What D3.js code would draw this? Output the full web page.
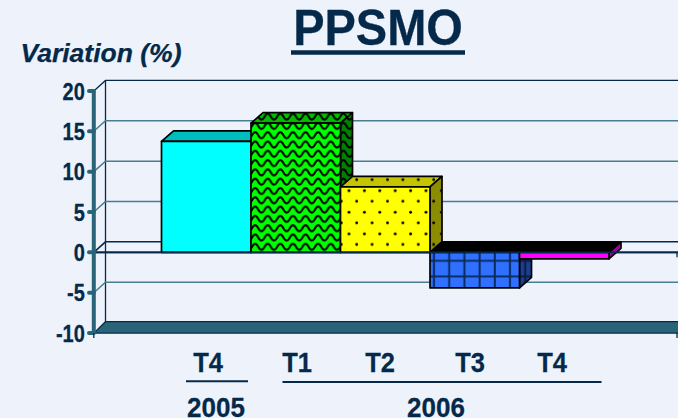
<!DOCTYPE html>
<html><head><meta charset="utf-8">
<script src="https://cdn.jsdelivr.net/npm/d3@7"></script>
<style>html,body{margin:0;padding:0;background:#eef3fb}svg{display:block}text{font-family:"Liberation Sans",Arial,sans-serif;font-weight:bold;fill:#04294a;stroke:#04294a;stroke-width:0.25}</style>
</head><body><svg id="c" width="678" height="418"></svg>
<script>
const categories = ["T4 2005","T1 2006","T2 2006","T3 2006","T4 2006"];
const values = [13.75, 16, 8.1, -4.4, -0.8];
const yTicks = [-10,-5,0,5,10,15,20];
const quarterLabels = ["T4","T1","T2","T3","T4"];
const quarterX = [208,297,380,470,552];
const yearLabels = ["2005","2006"];
const yearX = [216,436];
const frontColors = ["#00ffff","#00ff00","#ffff00","#3070ff","#ff00ff"];
const topColors = ["#00bdbd","#00bd00","#c4c400","#000000","#000000"];
const sideColors = ["#00a0a0","#008000","#8c8c00","#1a3f90","#a000a0"];

const dx = 12, dy = 10.5;
const ink = "#04294a", teal = "#2a6478", grid = "#4a7c92";
const svg = d3.select("#c");
const y = d3.scaleLinear().domain([-10,20]).range([333.1,90.9]);
const x = d3.scaleBand().domain(categories).range([161.5,609]);
const ax = 93.8, wx = 105.5, right = 678;

function label(t,px,py,size,sy,anchor,italic){
  const e = svg.append("text").attr("transform",`translate(${px},${py}) scale(1,${sy})`)
    .attr("text-anchor",anchor).attr("font-size",size).text(t);
  if(italic) e.attr("font-style","italic");
  return e;
}

const defs = svg.append("defs");
function pat(id,w,h,bg,draw){
  const p = defs.append("pattern").attr("id",id).attr("patternUnits","userSpaceOnUse").attr("width",w).attr("height",h);
  p.append("rect").attr("width",w).attr("height",h).attr("fill",bg);
  draw(p);
}
[["w0",frontColors[1]],["w1",topColors[1]],["w2",sideColors[1]]].forEach(([id,c])=>
  pat(id,12.6,9.3,c,p=>p.append("path").attr("d","M-12.6 5 Q-9.45 -1 -6.3 5 T0 5 Q3.15 -1 6.3 5 T12.6 5 Q15.75 -1 18.9 5 T25.2 5").attr("fill","none").attr("stroke","#000").attr("stroke-width",2)));
[["d0",frontColors[2]],["d1",topColors[2]],["d2",sideColors[2]]].forEach(([id,c])=>
  pat(id,15.4,21.6,c,p=>{
    p.append("circle").attr("cx",10.2).attr("cy",17.9).attr("r",1.4).attr("fill","#000");
    p.append("circle").attr("cx",2.5).attr("cy",6.9).attr("r",1.4).attr("fill","#000");
  }));
[["g0",frontColors[3]],["g2",sideColors[3]]].forEach(([id,c])=>
  pat(id,15.2,15.6,c,p=>{
    p.append("path").attr("d","M8.4 0V15.6 M0 11.2H15.2").attr("stroke",id=="g0"?"#0b2a60":"#0a1c40").attr("stroke-width",2);
  }));

// back wall and floor
const wallTop = y(20)-dy, floorBack = y(-10)-dy-0.9;
svg.append("path").attr("d",`M${ax} ${y(20)}L${wx} ${wallTop}H${right}`).attr("fill","none").attr("stroke",ink).attr("stroke-width",1.3);
svg.append("line").attr("x1",wx).attr("x2",wx).attr("y1",wallTop).attr("y2",floorBack).attr("stroke",ink).attr("stroke-width",1.3);
svg.append("path").attr("d",`M${ax} ${y(-10)}L${wx} ${floorBack}H${right}V${y(-10)}Z`).attr("fill",teal);
svg.append("path").attr("d",`M${ax} ${y(-10)}L${wx} ${floorBack}H${right}M${ax} ${y(-10)}H${right}`).attr("fill","none").attr("stroke",ink).attr("stroke-width",1.3);

// gridlines
yTicks.filter(t=>t>-10&&t<20).forEach(t=>{
  svg.append("path").attr("d",`M${ax} ${y(t)}L${wx} ${y(t)-dy}H${right}`).attr("fill","none")
    .attr("stroke",t===0?ink:grid).attr("stroke-width",1.5);
});
svg.append("line").attr("x1",ax).attr("x2",right).attr("y1",y(0)).attr("y2",y(0)).attr("stroke",ink).attr("stroke-width",1.6);

// bars
const fills = [
  [frontColors[0],topColors[0],sideColors[0]],
  ["url(#w0)","url(#w1)","url(#w2)"],
  ["url(#d0)","url(#d1)","url(#d2)"],
  ["url(#g0)",topColors[3],"url(#g2)"],
  [frontColors[4],topColors[4],sideColors[4]]
];
categories.forEach((c,i)=>{
  const v = values[i], x0 = x(c), x1 = x0+x.bandwidth();
  const yt = y(Math.max(v,0)), yb = y(Math.min(v,0));
  const f = fills[i];
  const g = svg.append("g").attr("stroke","#000").attr("stroke-width",1.7).attr("stroke-linejoin","round");
  g.append("path").attr("d",`M${x0} ${yt}L${x0+dx} ${yt-dy}H${x1+dx}L${x1} ${yt}Z`).attr("fill",f[1]);
  g.append("path").attr("d",`M${x1} ${yt}L${x1+dx} ${yt-dy}V${yb-dy}L${x1} ${yb}Z`).attr("fill",f[2]);
  g.append("rect").attr("x",x0).attr("y",yt).attr("width",x1-x0).attr("height",yb-yt).attr("fill",f[0]);
});
svg.append("line").attr("x1",ax).attr("x2",right).attr("y1",y(0)).attr("y2",y(0)).attr("stroke",ink).attr("stroke-width",1.6);

// axis
svg.append("line").attr("x1",ax).attr("x2",ax).attr("y1",y(20)).attr("y2",y(-10)).attr("stroke",teal).attr("stroke-width",4);
yTicks.forEach(t=>{
  svg.append("line").attr("x1",89).attr("x2",ax).attr("y1",y(t)).attr("y2",y(t)).attr("stroke",teal).attr("stroke-width",4).attr("stroke-linecap","round");
  label(t,84.8,y(t)+8.6,20,1.2,"end");
});
[y(-10),y(0)].forEach(v=>{
  svg.append("line").attr("x1",677).attr("x2",677).attr("y1",v).attr("y2",v+5).attr("stroke",ink).attr("stroke-width",1.3);
});
svg.append("line").attr("x1",ax).attr("x2",ax).attr("y1",y(-10)).attr("y2",y(-10)+5).attr("stroke",ink).attr("stroke-width",1.3);

// labels
quarterLabels.forEach((t,i)=>label(t,quarterX[i],372,25.5,1.08,"middle"));
yearLabels.forEach((t,i)=>label(t,yearX[i],416.8,26,1.05,"middle"));
svg.append("line").attr("x1",186).attr("x2",248).attr("y1",381.3).attr("y2",381.3).attr("stroke",ink).attr("stroke-width",2);
svg.append("line").attr("x1",282.5).attr("x2",601.5).attr("y1",382).attr("y2",382).attr("stroke",ink).attr("stroke-width",2);
label("PPSMO",378,45,47,1.05,"middle");
svg.append("line").attr("x1",291).attr("x2",465).attr("y1",52.5).attr("y2",52.5).attr("stroke",ink).attr("stroke-width",4.6);
label("Variation (%)",20.5,62,26.5,1,"start",true);
</script></body></html>
